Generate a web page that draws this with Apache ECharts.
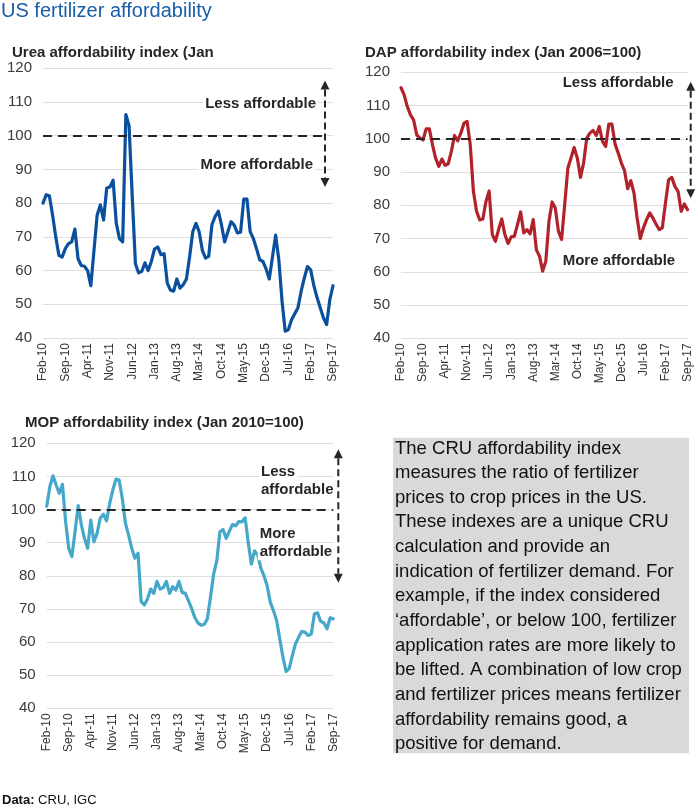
<!DOCTYPE html>
<html><head><meta charset="utf-8">
<script src="https://cdn.jsdelivr.net/npm/echarts@6/dist/echarts.min.js"></script>
<style>html,body{margin:0;padding:0;background:#fff}#c{width:698px;height:809px}</style>
</head><body><div id="c"></div>
<script>
// ---- data ----
var monthNames = ['Jan','Feb','Mar','Apr','May','Jun','Jul','Aug','Sep','Oct','Nov','Dec'];
var startYear = 2010, startMonth = 1, nMonths = 92; // Feb-10 .. Sep-17
var categories = [];
for (var i = 0; i < nMonths; i++) {
  var mi = (startMonth + i) % 12, yr = startYear + Math.floor((startMonth + i) / 12);
  categories.push(monthNames[mi] + '-' + String(yr).slice(2));
}
var yTicks = [40, 50, 60, 70, 80, 90, 100, 110, 120];

var urea = [80,82.5,82.2,76.5,70,64.5,64,66.5,68,68.5,72.3,63.5,61.5,61.3,60,55.5,66,76.5,79.5,75,
  84.5,84.8,86.8,74,69.5,68.5,106.3,103,82,62,59.3,59.8,62.3,60,62.7,66.4,67,64.7,65,56.3,
  54.2,53.9,57.5,54.8,55.8,57.5,64,71.5,74,71.5,66,63.7,64.2,73.6,76,77.6,73.6,68.5,71.5,74.5,
  73.5,71.2,71.4,81.2,81.2,71.6,69.5,66.5,63.2,62.7,60.5,57.5,64,70.5,63.2,51,42,42.5,45.4,47.2,
  49,53.8,57.8,61.2,60.2,55.5,52,49,46,44,51.4,55.5];
var dap = [115.4,113.2,109.7,107.2,105.7,101.2,100.2,99.7,103,103,98.2,94.2,91.7,93.9,92,92.5,96.2,101,99.4,101.7,
  104.7,105.2,98.2,84.2,78.2,75.6,75.9,81.2,84.3,71.2,69.2,72.7,75.9,71.2,68.5,70.5,70.7,74.2,78,71.7,
  72.7,71.4,75.7,66.6,64.7,60.2,63.2,75.2,81,79.2,72.2,69.7,80.2,91.2,94.2,97.4,94.2,88.4,92.7,100.2,
  101.7,102.5,101,103.7,99.2,97.7,104.4,104.4,98.4,95.7,92.7,90.4,85,87.4,83.7,76.2,70,73.2,75.7,77.7,
  76.2,74.4,72.7,73.2,80.7,87.7,88.4,85.7,84.2,78.2,80.4,78.7];
var mop = [101,106.9,110.2,107.4,104.9,107.6,96.4,88.3,85.8,93.3,101.2,95.4,91.3,88.3,96.8,90.3,92.8,97.4,98.6,96.6,
  101.9,105.9,109.2,108.9,103.4,95.9,92.3,88.3,85.3,86.8,72.2,71.2,73,76,74.7,78.3,76,76.4,78.3,74.7,
  76.7,75.7,78.3,75,74.7,72.5,70.2,67.5,65.8,65.1,65.3,67,73.5,80.5,84.5,93.3,94,91.3,93.5,95.5,
  95.1,96.4,96.3,97.5,90,83.5,87.5,86.3,82.3,80,77,72,69.5,66.5,61,55.5,51.1,52,56,59.5,
  61.5,63.2,63,62,62.4,68.5,68.8,66.2,65.8,64,67.3,67];

var titles = ['Urea affordability index (Jan', 'DAP affordability index (Jan 2006=100)', 'MOP affordability index (Jan 2010=100)'];
var boxText = ['The CRU affordability index','measures the ratio of fertilizer','prices to crop prices in the US.',
  'These indexes are a unique CRU','calculation and provide an','indication of fertilizer demand. For',
  'example, if the index considered','\u2018affordable\u2019, or below 100, fertilizer','application rates are more likely to',
  'be lifted. A combination of low crop','and fertilizer prices means fertilizer','affordability remains good, a','positive for demand.'];

// ---- styles ----
var FONT = '"Liberation Sans", Arial, sans-serif';
var dark = '#262626';
var grids = [
  {left: 43, top: 68.3, width: 290, height: 269.7},
  {left: 401, top: 72.3, width: 286.5, height: 266},
  {left: 46.7, top: 443.3, width: 286.6, height: 265}
];
var colors = ['#0b4f9f', '#b3222b', '#46a8c8'];
var seriesData = [urea, dap, mop];

function xAxisFor(i) {
  return {
    type: 'category', gridIndex: i, data: categories, boundaryGap: false,
    axisLine: {show: false}, axisTick: {show: false},
    axisLabel: {interval: 6, rotate: 90, fontSize: 12, color: '#333', fontFamily: FONT, margin: 5,
      showMinLabel: true, showMaxLabel: true}
  };
}
function yAxisFor(i) {
  return {
    type: 'value', gridIndex: i, min: yTicks[0], max: yTicks[yTicks.length - 1], interval: 10,
    axisLine: {show: false}, axisTick: {show: false},
    axisLabel: {fontSize: 15, color: '#3a3a3a', fontFamily: FONT, margin: 11},
    splitLine: {lineStyle: {color: '#dedede', width: 1}}
  };
}
var series = seriesData.map(function (d, i) {
  var mlData = i === 0
    ? [[{coord: [categories[0], 100]}, {coord: [categories[88], 100]}]]
    : [{yAxis: 100}];
  return {
    type: 'line', xAxisIndex: i, yAxisIndex: i, data: d, symbol: 'none', smooth: false,
    lineStyle: {color: colors[i], width: 3.2, join: 'round', cap: 'round'},
    itemStyle: {color: colors[i]},
    markLine: {silent: true, symbol: ['none', 'none'], label: {show: false},
      lineStyle: {color: dark, type: [9, 6], width: 2.2}, data: mlData}
  };
});

function arrow(x, y1, y2) {
  var hw = 4.5, hh = 9;
  return [
    {type: 'line', z: 10, shape: {x1: x, y1: y1 + hh, x2: x, y2: y2 - hh},
     style: {stroke: dark, lineWidth: 2, lineDash: [7, 4]}},
    {type: 'polygon', z: 10, shape: {points: [[x, y1], [x - hw, y1 + hh], [x + hw, y1 + hh]]}, style: {fill: dark}},
    {type: 'polygon', z: 10, shape: {points: [[x, y2], [x - hw, y2 - hh], [x + hw, y2 - hh]]}, style: {fill: dark}}
  ];
}
function txt(x, y, s, opt) {
  opt = opt || {};
  var st = {text: s, fill: opt.fill || dark, font: (opt.weight || 'bold') + ' ' + (opt.size || 15) + 'px ' + FONT,
    align: opt.align || 'left', verticalAlign: 'middle'};
  if (opt.bg) { st.backgroundColor = opt.bg; st.padding = [1, 2, 1, 2]; }
  return {type: 'text', z: 10, x: x, y: y, style: st};
}

var graphics = [];
graphics.push(txt(1, 11, 'US fertilizer affordability', {fill: '#1a5ea8', weight: 'normal', size: 20}));
graphics.push(txt(12, 52.5, titles[0]));
graphics.push(txt(365, 52.7, titles[1]));
graphics.push(txt(25, 422.7, titles[2]));
// annotations
graphics.push(txt(318, 104, 'Less affordable', {align: 'right', bg: '#fff'}));
graphics.push(txt(315, 165, 'More affordable', {align: 'right', bg: '#fff'}));
graphics.push(txt(560.7, 83.3, 'Less affordable', {bg: '#fff'}));
graphics.push(txt(560.7, 260.7, 'More affordable', {bg: '#fff'}));
graphics.push(txt(259, 472.3, 'Less', {bg: '#fff'}));
graphics.push(txt(259, 489.6, 'affordable', {bg: '#fff'}));
graphics.push(txt(257.7, 534, 'More', {bg: '#fff'}));
graphics.push(txt(257.7, 551.7, 'affordable', {bg: '#fff'}));
graphics = graphics.concat(arrow(325, 80.5, 187), arrow(690.7, 81.7, 198.3), arrow(338.3, 449.3, 582.7));
// text box
graphics.push({type: 'rect', shape: {x: 393, y: 437.7, width: 296, height: 315.5}, style: {fill: '#d9d9d9'}, z: -1});
boxText.forEach(function (line, k) {
  graphics.push(txt(395, 448.5 + k * 24.63, line, {weight: 'normal', size: 18.5, fill: '#111'}));
});
// footer
graphics.push({type: 'text', x: 2, y: 800, style: {rich: {b: {fontWeight: 'bold', fontSize: 13, fontFamily: FONT, fill: '#111'}, n: {fontSize: 13, fontFamily: FONT, fill: '#111'}},
  text: '{b|Data:}{n| CRU, IGC}', verticalAlign: 'middle'}});

var chart = echarts.init(document.getElementById('c'), null, {renderer: 'canvas'});
chart.setOption({
  animation: false,
  backgroundColor: '#fff',
  textStyle: {fontFamily: FONT},
  grid: grids.map(function (g) { return Object.assign({containLabel: false, outerBoundsMode: 'none'}, g); }),
  xAxis: [0, 1, 2].map(xAxisFor),
  yAxis: [0, 1, 2].map(yAxisFor),
  series: series,
  graphic: graphics
});
</script></body></html>
